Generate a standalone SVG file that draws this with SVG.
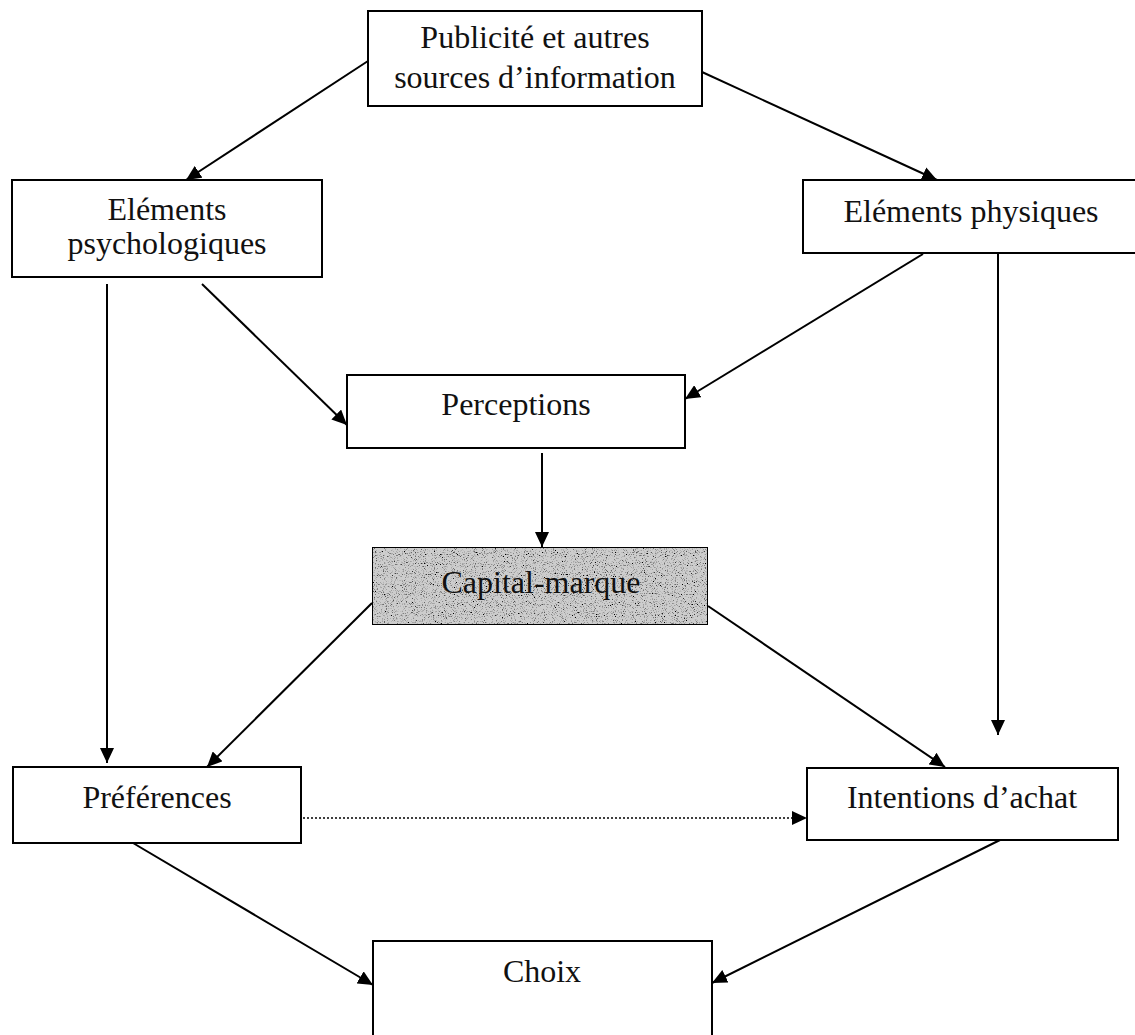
<svg xmlns="http://www.w3.org/2000/svg" width="1135" height="1035" viewBox="0 0 1135 1035">
  <style>
    .box { fill: #ffffff; stroke: #000000; stroke-width: 2; }
    .label { font-family: "Liberation Serif", "Times New Roman", serif; font-size: 32px; fill: #111111; text-anchor: middle; }
    .link { stroke: #000000; stroke-width: 2; fill: none; marker-end: url(#arrow); }
    .dotted { stroke: #000000; stroke-width: 1.5; stroke-dasharray: 2 2; fill: none; marker-end: url(#arrow); }
  </style>
  <defs>
    <marker id="arrow" markerUnits="userSpaceOnUse" markerWidth="16" markerHeight="14" refX="15" refY="7" orient="auto">
      <path d="M0,0 L15,7 L0,14 Z" fill="#000000"/>
    </marker>
    <!-- speckled grey shading for the highlighted box -->
    <filter id="grain" x="0" y="0" width="100%" height="100%">
      <feTurbulence type="fractalNoise" baseFrequency="0.9" numOctaves="2" seed="7" result="noise"/>
      <feColorMatrix in="noise" type="matrix" values="0 0 0 0 0  0 0 0 0 0  0 0 0 0 0  -4 0 0 0 1.85" result="specks"/>
      <feComposite in="specks" in2="SourceAlpha" operator="in" result="clipped"/>
      <feMerge>
        <feMergeNode in="SourceGraphic"/>
        <feMergeNode in="clipped"/>
      </feMerge>
    </filter>
  </defs>

  <rect width="1135" height="1035" fill="#ffffff"/>

  <g id="connectors">
    <line class="link" x1="368" y1="61" x2="186" y2="180"/>
    <line class="link" x1="702" y1="72" x2="937" y2="180"/>
    <line class="link" x1="107" y1="284" x2="107" y2="763"/>
    <line class="link" x1="202" y1="284" x2="347" y2="425"/>
    <line class="link" x1="923" y1="254" x2="685" y2="399"/>
    <line class="link" x1="998" y1="254" x2="998" y2="735"/>
    <line class="link" x1="542" y1="453" x2="542" y2="547"/>
    <line class="link" x1="372" y1="603" x2="207" y2="767"/>
    <line class="link" x1="708" y1="606" x2="945" y2="767"/>
    <line class="dotted" x1="303" y1="818" x2="807" y2="818"/>
    <line class="link" x1="133" y1="843" x2="373" y2="985"/>
    <line class="link" x1="1000" y1="840" x2="712" y2="983"/>
  </g>

  <g id="publicite">
    <rect class="box" x="368" y="11" width="334" height="95"/>
    <text class="label" x="535" y="48">Publicité et autres</text>
    <text class="label" x="535" y="88">sources d’information</text>
  </g>

  <g id="elements-psychologiques">
    <rect class="box" x="12" y="180" width="310" height="97"/>
    <text class="label" x="167" y="220">Eléments</text>
    <text class="label" x="167" y="254">psychologiques</text>
  </g>

  <g id="elements-physiques">
    <rect class="box" x="803" y="180" width="340" height="73"/>
    <text class="label" x="971" y="222">Eléments physiques</text>
  </g>

  <g id="perceptions">
    <rect class="box" x="347" y="375" width="338" height="73"/>
    <text class="label" x="516" y="415">Perceptions</text>
  </g>

  <g id="capital-marque">
    <rect class="box" x="372" y="547" width="336" height="78" style="fill:#cdcdcd" filter="url(#grain)"/>
    <text class="label" x="541" y="593">Capital-marque</text>
  </g>

  <g id="preferences">
    <rect class="box" x="13" y="767" width="288" height="76"/>
    <text class="label" x="157" y="808">Préférences</text>
  </g>

  <g id="intentions-achat">
    <rect class="box" x="807" y="768" width="311" height="72"/>
    <text class="label" x="962" y="808">Intentions d’achat</text>
  </g>

  <g id="choix">
    <rect class="box" x="373" y="941" width="339" height="110"/>
    <text class="label" x="542" y="982">Choix</text>
  </g>
</svg>
